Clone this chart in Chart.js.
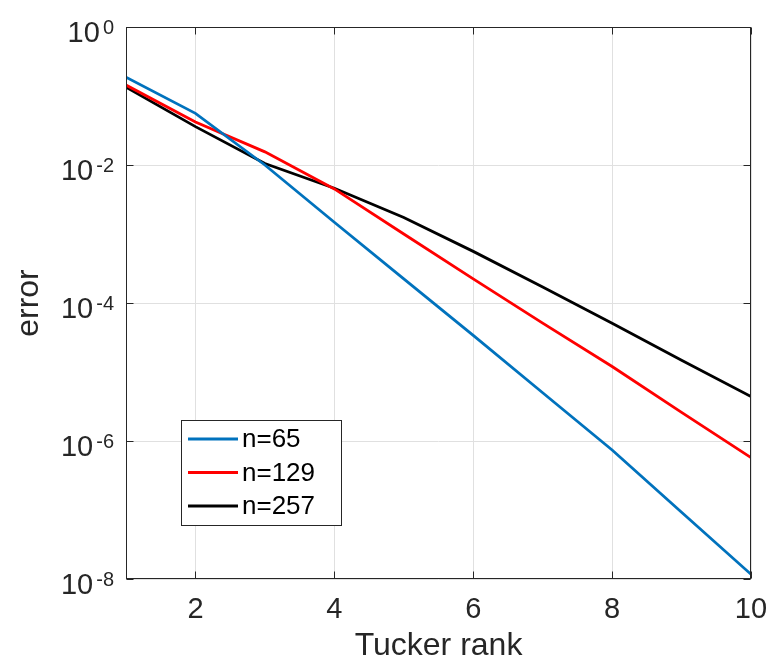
<!DOCTYPE html>
<html>
<head>
<meta charset="utf-8">
<script src="https://cdn.jsdelivr.net/npm/chart.js@4"></script>
<style>
    body { margin: 0; background: #ffffff; }
    #wrap { width: 770px; height: 660px; }
</style>
</head>
<body>
<div id="wrap"><canvas id="errChart" width="770" height="660"></canvas></div>
<script>
// data
const ranks = [1, 2, 3, 4, 5, 6, 7, 8, 9, 10];
const err65 = [1.87e-1, 5.6e-2, 1.0e-2, 1.48e-3, 2.24e-4, 3.4e-5, 5.0e-6, 7.4e-7, 9.3e-8, 1.17e-8];
const err129 = [1.44e-1, 4.2e-2, 1.55e-2, 4.5e-3, 1.0e-3, 2.24e-4, 5.1e-5, 1.2e-5, 2.6e-6, 5.75e-7];
const err257 = [1.34e-1, 3.6e-2, 1.05e-2, 4.6e-3, 1.74e-3, 5.6e-4, 1.7e-4, 5.1e-5, 1.48e-5, 4.4e-6];
const seriesNames = ["n=65", "n=129", "n=257"];
const xTicks = [2, 4, 6, 8, 10];
const yTicks = [1e-8, 1e-6, 1e-4, 1e-2, 1e0];

const FONT = "'Liberation Sans', Arial, Helvetica, sans-serif";
const axisColor = "#262626";
const gridColor = "#e0e0e0";

const toPoints = vals => ranks.map((r, i) => ({ x: r, y: vals[i] }));

// box, inward ticks, y labels with exponents, legend
const decor = {
    id: "decor",
    afterDraw(chart) {
        const { ctx, chartArea: a, scales } = chart;
        const x = scales.x, y = scales.y;
        const L = Math.round(a.left) + 0.5, R = Math.round(a.right) - 0.5;
        const T = Math.round(a.top) + 0.5, B = Math.round(a.bottom) - 0.5;
        ctx.save();
        ctx.strokeStyle = axisColor;
        ctx.lineWidth = 1;
        ctx.strokeRect(L, T, R - L, B - T);

        const tl = 7;
        ctx.beginPath();
        xTicks.forEach(v => {
            const px = Math.round(x.getPixelForValue(v)) + 0.5;
            ctx.moveTo(px, B); ctx.lineTo(px, B - tl);
            ctx.moveTo(px, T); ctx.lineTo(px, T + tl);
        });
        yTicks.forEach(v => {
            const py = Math.round(y.getPixelForValue(v)) + 0.5;
            ctx.moveTo(L, py); ctx.lineTo(L + tl, py);
            ctx.moveTo(R, py); ctx.lineTo(R - tl, py);
        });
        ctx.stroke();

        // y tick labels: 10 with superscript exponent
        ctx.fillStyle = axisColor;
        ctx.textAlign = "right";
        ctx.textBaseline = "alphabetic";
        yTicks.forEach(v => {
            const py = y.getPixelForValue(v);
            const exp = String(Math.round(Math.log10(v)));
            const expRight = a.left - 12;
            ctx.font = "20px " + FONT;
            const w = ctx.measureText(exp).width;
            ctx.fillText(exp, expRight, py + 7);
            ctx.font = "29px " + FONT;
            ctx.fillText("10", expRight - w - 3, py + 15);
        });

        // legend
        const lg = { x: 181, y: 420, w: 160, h: 105 };
        ctx.fillStyle = "#ffffff";
        ctx.fillRect(lg.x, lg.y, lg.w, lg.h);
        ctx.strokeStyle = axisColor;
        ctx.lineWidth = 1;
        ctx.strokeRect(lg.x + 0.5, lg.y + 0.5, lg.w, lg.h);
        ctx.textAlign = "left";
        ctx.textBaseline = "middle";
        ctx.font = "26px " + FONT;
        chart.data.datasets.forEach((ds, i) => {
            const ry = lg.y + 19 + i * 33.5;
            ctx.strokeStyle = ds.borderColor;
            ctx.lineWidth = ds.borderWidth;
            ctx.beginPath();
            ctx.moveTo(lg.x + 7, ry);
            ctx.lineTo(lg.x + 57, ry);
            ctx.stroke();
            ctx.fillStyle = "#000000";
            ctx.fillText(ds.label, lg.x + 61, ry + 1);
        });
        ctx.restore();
    }
};

new Chart(document.getElementById("errChart"), {
    type: "line",
    data: {
        datasets: [
            { label: seriesNames[0], data: toPoints(err65), borderColor: "#0072BD" },
            { label: seriesNames[1], data: toPoints(err129), borderColor: "#FF0000" },
            { label: seriesNames[2], data: toPoints(err257), borderColor: "#000000" }
        ].map(d => Object.assign(d, { borderWidth: 2.8, pointRadius: 0, tension: 0, fill: false }))
    },
    options: {
        responsive: false,
        animation: false,
        devicePixelRatio: 1,
        layout: { padding: { top: 27, right: 19, left: 0, bottom: 0 } },
        plugins: {
            legend: { display: false },
            tooltip: { enabled: false }
        },
        scales: {
            x: {
                type: "linear",
                min: 1,
                max: 10,
                afterBuildTicks: s => { s.ticks = xTicks.map(v => ({ value: v })); },
                afterFit: s => { s.height = 81; s.paddingLeft = 0; s.paddingRight = 0; },
                grid: { color: gridColor, drawTicks: false },
                border: { display: false },
                ticks: {
                    autoSkip: false,
                    maxRotation: 0,
                    padding: 14,
                    color: axisColor,
                    font: { family: FONT, size: 29 }
                },
                title: {
                    display: true,
                    text: "Tucker rank",
                    color: axisColor,
                    font: { family: FONT, size: 32, lineHeight: 1 },
                    padding: { top: 0, bottom: -2 }
                }
            },
            y: {
                type: "logarithmic",
                min: 1e-8,
                max: 1,
                afterBuildTicks: s => { s.ticks = yTicks.map(v => ({ value: v })); },
                afterFit: s => { s.width = 126; s.paddingTop = 0; s.paddingBottom = 0; },
                grid: { color: gridColor, drawTicks: false },
                border: { display: false },
                ticks: { display: false },
                title: {
                    display: true,
                    text: "error",
                    color: axisColor,
                    font: { family: FONT, size: 32, lineHeight: 1 },
                    padding: { top: 13, bottom: 0 }
                }
            }
        }
    },
    plugins: [decor]
});
</script>
</body>
</html>
